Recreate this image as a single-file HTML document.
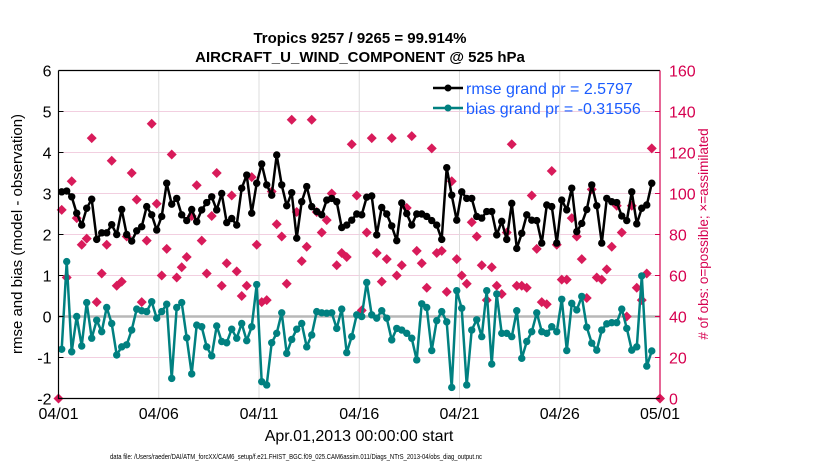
<!DOCTYPE html>
<html><head><meta charset="utf-8"><style>
body{margin:0;background:#fff;}
svg text{font-family:"Liberation Sans",sans-serif;}
</style></head><body>
<svg id="chart" width="830" height="470" viewBox="0 0 830 470" xmlns="http://www.w3.org/2000/svg">
<rect width="830" height="470" fill="#fff"/>
<g id="grid"></g>
<g id="marks"></g>
<g id="axes"></g>
<text x="360" y="43" text-anchor="middle" font-size="15" font-weight="bold">Tropics 9257 / 9265 = 99.914%</text>
<text x="360" y="62" text-anchor="middle" font-size="15" font-weight="bold">AIRCRAFT_U_WIND_COMPONENT @ 525 hPa</text>
<text transform="translate(22,234) rotate(-90)" text-anchor="middle" font-size="15">rmse and bias (model - observation)</text>
<text transform="translate(708,234) rotate(-90)" text-anchor="middle" font-size="13.5" fill="#d6004f"># of obs: o=possible; ×=assimilated</text>
<text x="359" y="441" text-anchor="middle" font-size="16">Apr.01,2013 00:00:00 start</text>
<text x="296" y="459" text-anchor="middle" font-size="7.5" textLength="372" lengthAdjust="spacingAndGlyphs">data file: /Users/raeder/DAI/ATM_forcXX/CAM6_setup/f.e21.FHIST_BGC.f09_025.CAM6assim.011/Diags_NTrS_2013-04/obs_diag_output.nc</text>
<g>
<line x1="433" y1="88" x2="463" y2="88" stroke="#000" stroke-width="2.5"/>
<circle cx="448" cy="88" r="3.5" fill="#000"/>
<text x="466" y="94" font-size="16" fill="#1a5cff">rmse grand pr = 2.5797</text>
<line x1="433" y1="108" x2="463" y2="108" stroke="#008080" stroke-width="2.5"/>
<circle cx="448" cy="108" r="3.5" fill="#008080"/>
<text x="466" y="114" font-size="16" fill="#1a5cff">bias grand pr = -0.31556</text>
</g>
</svg>
<script>
const xTickLabels = ["04/01","04/06","04/11","04/16","04/21","04/26","05/01"];
const xTickDays = [0,5,10,15,20,25,30];
const yTicks = [6,5,4,3,2,1,0,-1,-2];
const y2Ticks = [160,140,120,100,80,60,40,20,0];
const rmse = [3.04,3.06,2.92,2.52,2.23,2.64,2.86,1.88,2.04,2.04,2.24,2.00,2.61,2.00,1.84,2.09,2.19,2.68,2.48,2.11,2.44,3.25,2.74,2.88,2.48,2.34,2.61,2.31,2.60,2.78,
2.92,2.60,3.00,2.29,2.39,2.23,3.13,3.45,2.52,3.25,3.72,3.21,2.96,3.94,3.21,2.70,3.02,1.91,2.80,3.17,2.68,2.56,2.48,2.84,2.88,2.80,2.17,2.23,2.35,2.50,
2.48,2.91,2.94,1.99,2.66,2.50,2.21,1.85,2.77,2.51,2.23,2.50,2.50,2.44,2.34,2.23,1.88,3.63,2.96,2.35,3.04,2.88,2.88,2.44,2.40,2.56,2.56,1.99,2.32,1.88,
2.76,1.66,2.03,2.48,2.35,2.34,1.79,2.72,2.68,1.79,2.84,2.60,3.13,2.07,2.27,2.61,3.21,2.70,1.79,2.88,2.80,2.78,2.45,2.34,3.04,2.26,2.64,2.72,3.25];
const bias = [-0.80,1.34,-0.86,0,-0.72,0.34,-0.53,-0.09,-0.37,0.22,-0.17,-0.94,-0.74,-0.69,-0.33,0.18,0.14,0.12,0.36,-0.04,0.12,0.30,-1.51,0.22,0.34,-0.52,-1.40,-0.21,-0.25,-0.74,
-0.96,-0.23,-0.61,-0.64,-0.31,-0.53,-0.17,-0.59,-0.25,0.78,-1.59,-1.67,-0.64,-0.41,0.09,-0.90,-0.56,-0.31,-0.17,-0.74,-0.45,0.12,0.09,0.08,0.09,-0.29,0.18,-0.88,-0.49,0.04,
0,0.83,0.04,-0.04,0.14,-0.04,-0.57,-0.29,-0.33,-0.41,-0.53,-1.06,0.31,0.22,-0.83,-0.10,0.12,-0.13,-1.73,0.63,0.20,-1.67,-0.33,-0.08,-0.49,0.63,-1.16,0.55,-0.41,-0.41,
-0.49,0.14,-1.02,-0.61,-0.37,0.09,-0.37,-0.41,-0.25,-0.37,0.42,-0.83,0.32,0.16,0.49,-0.26,-0.65,-0.82,-0.33,-0.18,-0.15,-0.15,0.18,-0.29,-0.82,-0.74,0.99,-1.21,-0.84];
const nobs = [92,59,106,88,75,78,127,47,61,75,116,55,57,79,110,97,47,77,134,95,60,73,119,59,64,69,89,104,77,61,
89,110,55,66,99,62,50,55,108,75,47,48,101,85,79,56,136,91,67,74,136,91,81,87,100,65,71,69,124,99,
43,81,127,71,57,68,127,60,65,93,128,72,66,54,122,71,72,52,106,68,60,56,86,79,65,48,64,55,51,81,
124,55,55,54,99,73,47,46,111,75,58,58,88,79,68,49,102,59,58,63,74,94,81,40,94,54,48,61,122];
const edgeDays = [0,30];
const edgeObs = [0,0];

const NS="http://www.w3.org/2000/svg";
const L=58.5,R=660,T=70.5,B=398.5;
const xDay=d=>L+(R-L)*d/30;
const xIdx=i=>xDay(0.16+i*0.2494);
const yL=v=>T+(6-v)*(B-T)/8;
const yR=v=>B-v*(B-T)/160;
function mk(tag,attrs,parent){const e=document.createElementNS(NS,tag);for(const k in attrs)e.setAttribute(k,attrs[k]);parent.appendChild(e);return e;}
const grid=document.getElementById('grid'),marks=document.getElementById('marks'),axes=document.getElementById('axes');
yTicks.forEach(v=>{
  if(v!==6&&v!==-2&&v!==0){const g=mk('line',{x1:L,x2:R,y1:yL(v),y2:yL(v),stroke:'#f2cfe0','stroke-width':1},grid);
  
  }
  const t=mk('text',{x:L-7,y:yL(v)+6,'text-anchor':'end','font-size':16},axes);t.textContent=v;
  
  
  mk('line',{x1:L,x2:L+5,y1:yL(v),y2:yL(v),stroke:'#000'},axes);
});
y2Ticks.forEach(v=>{
  const t=mk('text',{x:R+9,y:yR(v)+6,'font-size':16,fill:'#d6004f'},axes);t.textContent=v;
  
  
  mk('line',{x1:R-5,x2:R,y1:yR(v),y2:yR(v),stroke:'#d6004f'},axes);
});
xTickDays.forEach((d,i)=>{
  if(d>0&&d<30){const g=mk('line',{x1:xDay(d),x2:xDay(d),y1:T,y2:B,stroke:'#dcdcdc'},grid);
  
  }
  const t=mk('text',{x:xDay(d),y:419,'text-anchor':'middle','font-size':16},axes);t.textContent=xTickLabels[i];
  
  
});
const z=mk('line',{x1:L,x2:R,y1:yL(0),y2:yL(0),stroke:'#b8b8b8','stroke-width':2.5},grid);


function diamond(x,y){const p=mk('path',{d:`M${x} ${y-5}L${x+5} ${y}L${x} ${y+5}L${x-5} ${y}Z`,fill:'#d81b5a'},marks);
  
  }
nobs.forEach((v,i)=>diamond(xIdx(i),yR(v)));
edgeDays.forEach((d,i)=>diamond(xDay(d),yR(edgeObs[i])));
function series(arr,color,name){
  const pts=arr.map((v,i)=>xIdx(i).toFixed(1)+','+yL(v).toFixed(1)).join(' ');
  const pl=mk('polyline',{points:pts,fill:'none',stroke:color,'stroke-width':2.5,'stroke-linejoin':'round'},marks);
  
  
  arr.forEach((v,i)=>{const c=mk('circle',{cx:xIdx(i),cy:yL(v),r:3.7,fill:color},marks);
    
    });
}
series(rmse,'#000','rmse');
series(bias,'#008080','bias');
mk('path',{d:`M${L} ${T}H${R}M${L} ${T}V${B}H${R}`,fill:'none',stroke:'#000','stroke-width':1.2},axes);
mk('line',{x1:R,x2:R,y1:T,y2:B,stroke:'#d6004f','stroke-width':1.2},axes);
</script>
</body></html>
